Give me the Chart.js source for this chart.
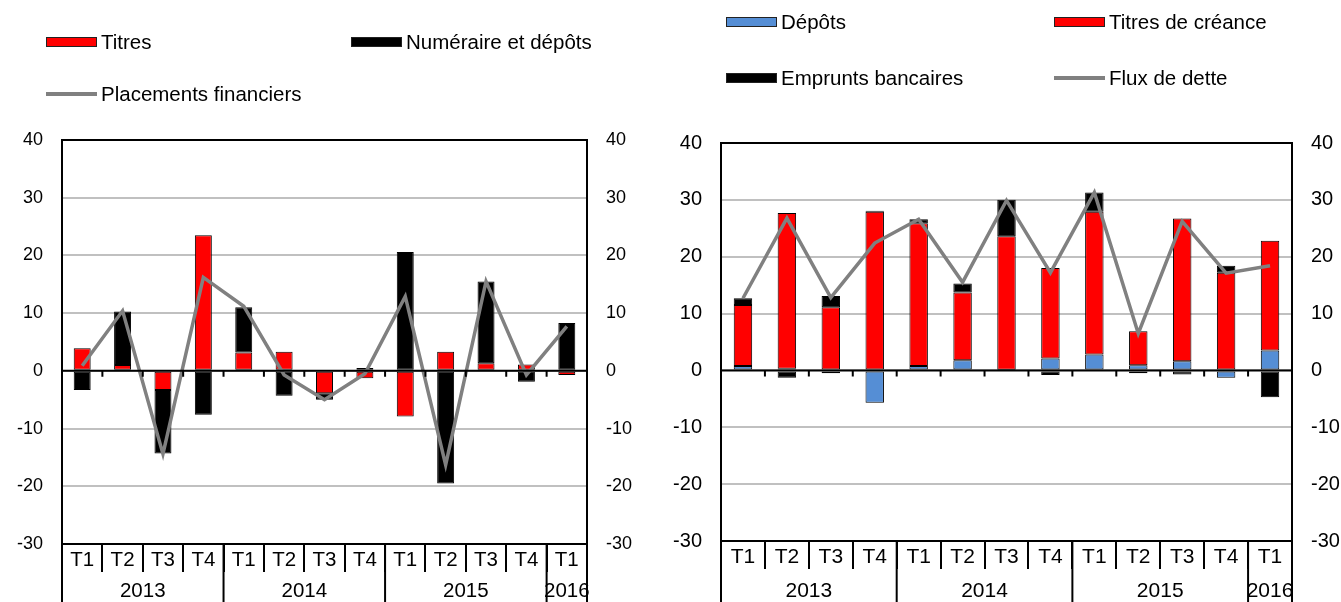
<!DOCTYPE html>
<html>
<head>
<meta charset="utf-8">
<script src="https://cdn.jsdelivr.net/npm/chart.js@4/dist/chart.umd.min.js"></script>
<style>
  body { margin: 0; background: #fff; font-family: "Liberation Sans", Arial, sans-serif; }
  #page { position: relative; width: 1341px; height: 602px; overflow: hidden; }
  canvas { position: absolute; top: 0; }
  .leg { position: absolute; font-size: 20.5px; line-height: 24px; color: #000; white-space: nowrap; }
  .sw { position: absolute; box-sizing: border-box; }
</style>
</head>
<body>
<div id="page">
  <canvas id="gauche" width="660" height="602" style="left:0"></canvas>
  <canvas id="droite" width="681" height="602" style="left:660px"></canvas>
</div>
<script>
// axe des catégories
const quarters = ['T1', 'T2', 'T3', 'T4', 'T1', 'T2', 'T3', 'T4', 'T1', 'T2', 'T3', 'T4', 'T1'];
const years = ['2013', '2014', '2015', '2016'];
const yTicks = [-30, -20, -10, 0, 10, 20, 30, 40];

// graphique de gauche
const titres = [3.9, 1.0, -3.3, 23.5, 3.2, 3.3, -3.9, -1.3, -7.9, 3.3, 1.3, 1.1, -0.7];
const numeraire = [-3.3, 9.3, -11.0, -7.6, 7.8, -4.3, -1.1, 0.5, 20.6, -19.5, 14.2, -1.9, 8.3];
const placements = [0.9, 10.4, -14.4, 16.2, 11.2, -0.7, -5.0, -0.5, 12.9, -16.3, 15.5, -0.7, 7.7];

// graphique de droite
const depots = [0.8, 0.3, -0.5, -5.7, 0.8, 1.8, 0.1, 2.1, 2.8, 0.9, 1.6, -1.3, 3.5];
const titresCreance = [10.7, 27.4, 11.1, 27.9, 25.1, 11.9, 23.5, 15.9, 25.1, 6.0, 25.1, 17.2, 19.3];
const emprunts = [1.2, -1.3, 2.0, 0.2, 0.7, 1.6, 6.4, -0.8, 3.4, -0.5, -0.7, 1.2, -4.7];
const fluxDette = [12.7, 26.8, 12.8, 22.4, 26.6, 15.5, 29.9, 17.2, 31.3, 6.5, 26.2, 17.1, 18.4];

const FAMILY = '"Liberation Sans", Arial, sans-serif';

function barre(label, data, color) {
  return {
    type: 'bar', label: label, data: data, backgroundColor: color,
    borderColor: '#000', borderWidth: 1, borderSkipped: false,
    barPercentage: 0.42, categoryPercentage: 1, order: 1
  };
}
function ligne(label, data) {
  return {
    type: 'line', label: label, data: data, borderColor: '#808080', borderWidth: 3.5,
    pointRadius: 0, tension: 0, stack: 'ligne', order: 0
  };
}

// cadre, petites graduations sur l'axe 0, années
const cadre = {
  id: 'cadre',
  afterDraw(chart, args, opts) {
    const { ctx, chartArea: a } = chart;
    const x = chart.scales.x, y = chart.scales.y;
    const half = (x.getPixelForValue(1) - x.getPixelForValue(0)) / 2;
    ctx.save();
    ctx.strokeStyle = '#000';
    ctx.lineWidth = 2;
    ctx.strokeRect(a.left, a.top, a.right - a.left, a.bottom - a.top);

    const y0 = y.getPixelForValue(0);
    ctx.beginPath();
    ctx.moveTo(a.left, y0); ctx.lineTo(a.right, y0);
    for (let i = 1; i < quarters.length; i++) {
      const px = x.getPixelForValue(i) - half;
      ctx.moveTo(px, y0); ctx.lineTo(px, y0 + 6);
    }
    ctx.stroke();

    // séparateurs et libellés des années
    let debut = 0, k = 0;
    ctx.fillStyle = '#000';
    ctx.font = opts.taille + 'px ' + FAMILY;
    ctx.textAlign = 'center';
    ctx.textBaseline = 'middle';
    for (let i = 1; i <= quarters.length; i++) {
      if (i === quarters.length || quarters[i] === 'T1') {
        const px = x.getPixelForValue(debut) - half;
        ctx.beginPath();
        ctx.moveTo(px, a.bottom); ctx.lineTo(px, chart.height);
        ctx.stroke();
        const c = (x.getPixelForValue(debut) + x.getPixelForValue(i - 1)) / 2;
        ctx.fillText(years[k], c, 591);
        debut = i; k++;
      }
    }
    const pr = x.getPixelForValue(quarters.length - 1) + half;
    ctx.beginPath();
    ctx.moveTo(pr, a.bottom); ctx.lineTo(pr, chart.height);
    ctx.stroke();
    ctx.restore();
  }
};

function axeY(pos, largeur, grille, taille) {
  return {
    position: pos, stacked: true, min: -30, max: 40,
    afterBuildTicks: (s) => { s.ticks = yTicks.map(v => ({ value: v })); },
    afterFit: (s) => { s.width = largeur; },
    grid: { display: grille, drawTicks: false, color: '#C0C0C0', lineWidth: 2 },
    border: { display: false },
    ticks: { color: '#000', font: { family: FAMILY, size: taille }, padding: 19 }
  };
}

function graphique(id, datasets, g) {
  return new Chart(document.getElementById(id), {
    data: { labels: quarters, datasets: datasets },
    options: {
      responsive: false, animation: false, devicePixelRatio: 1,
      layout: { padding: { top: g.top, left: 0, right: 0, bottom: 0 } },
      plugins: { legend: { display: false }, tooltip: { enabled: false }, cadre: { taille: g.tailleX } },
      scales: {
        x: {
          stacked: true,
          afterFit: (s) => { s.height = g.bas; },
          grid: { offset: true, drawOnChartArea: false, tickLength: 28, color: '#000', lineWidth: 2 },
          border: { display: false },
          ticks: { color: '#000', font: { family: FAMILY, size: g.tailleX }, padding: -24, maxRotation: 0, autoSkip: false }
        },
        y: axeY('left', g.gauche, true, g.tailleY),
        y2: axeY('right', g.droite, false, g.tailleY)
      }
    },
    plugins: [cadre]
  });
}

const dsGauche = [
  barre('Titres', titres, '#FF0000'),
  barre('Numéraire et dépôts', numeraire, '#000000'),
  ligne('Placements financiers', placements)
];
const dsDroite = [
  barre('Dépôts', depots, '#558ED5'),
  barre('Titres de créance', titresCreance, '#FF0000'),
  barre('Emprunts bancaires', emprunts, '#000000'),
  ligne('Flux de dette', fluxDette)
];

graphique('gauche', dsGauche, { top: 140, bas: 58, gauche: 62, droite: 73, tailleY: 18, tailleX: 20.5 });
graphique('droite', dsDroite, { top: 143, bas: 61, gauche: 61, droite: 49, tailleY: 20, tailleX: 21 });

// légendes (positions reprises de l'image)
function legende(ds, x, y) {
  const page = document.getElementById('page');
  const sw = document.createElement('div');
  sw.className = 'sw';
  if (ds.type === 'line') {
    sw.style.cssText = `left:${x}px;top:${y - 2}px;width:51px;height:4px;background:${ds.borderColor}`;
  } else {
    sw.style.cssText = `left:${x}px;top:${y - 5}px;width:51px;height:10px;background:${ds.backgroundColor};border:1px solid #222`;
  }
  page.appendChild(sw);
  const t = document.createElement('div');
  t.className = 'leg';
  t.textContent = ds.label;
  t.style.left = (x + 55) + 'px';
  t.style.top = (y - 12) + 'px';
  page.appendChild(t);
}
legende(dsGauche[0], 46, 42);
legende(dsGauche[1], 351, 42);
legende(dsGauche[2], 46, 94);
legende(dsDroite[0], 726, 22);
legende(dsDroite[1], 1054, 22);
legende(dsDroite[2], 726, 78);
legende(dsDroite[3], 1054, 78);
</script>
</body>
</html>
